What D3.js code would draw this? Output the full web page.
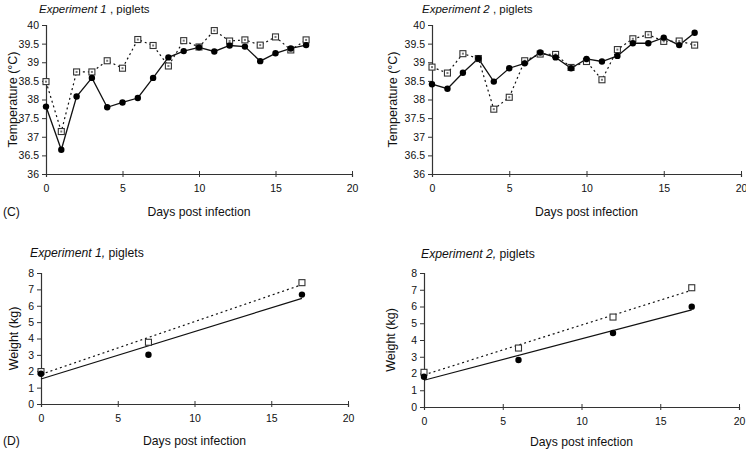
<!DOCTYPE html>
<html><head><meta charset="utf-8">
<script src="https://cdn.jsdelivr.net/npm/d3@7"></script>
<style>
body{margin:0;background:#fff;}
svg{display:block;font-family:"Liberation Sans",Arial,sans-serif;}
</style></head>
<body><svg id="chart" width="746" height="449"></svg>
<script>
// ---- data ----
const tempDays = [0,1,2,3,4,5,6,7,8,9,10,11,12,13,14,15,16,17];
const exp1TempFilled = [37.81,36.65,38.08,38.58,37.79,37.92,38.04,38.58,39.13,39.30,39.40,39.29,39.45,39.42,39.03,39.24,39.37,39.46];
const exp1TempOpen   = [38.48,37.14,38.74,38.74,39.04,38.84,39.61,39.45,38.90,39.58,39.41,39.85,39.57,39.60,39.46,39.68,39.33,39.60];
const exp2TempFilled = [38.41,38.29,38.72,39.10,38.48,38.84,38.97,39.26,39.13,38.84,39.09,39.02,39.17,39.51,39.51,39.66,39.46,39.79];
const exp2TempOpen   = [38.87,38.71,39.23,39.10,37.74,38.06,39.04,39.22,39.21,38.86,39.02,38.53,39.34,39.63,39.74,39.56,39.57,39.46];

const exp1WeightDays   = [0,7,17];
const exp1WeightFilled = [1.85,3.01,6.68];
const exp1WeightOpen   = [1.98,3.77,7.41];
const exp2WeightDays   = [0,6,12,17];
const exp2WeightFilled = [1.81,2.81,4.42,5.99];
const exp2WeightOpen   = [2.07,3.52,5.37,7.12];

const xTicks = [0,5,10,15,20];
const tempTicks = [36,36.5,37,37.5,38,38.5,39,39.5,40];
const weightTicks = [0,1,2,3,4,5,6,7,8];

const svg = d3.select("#chart");

function fit(xs, ys){
  const mx = d3.mean(xs), my = d3.mean(ys);
  let sxy=0, sxx=0;
  xs.forEach((x,i)=>{sxy+=(x-mx)*(ys[i]-my); sxx+=(x-mx)*(x-mx);});
  const b = sxy/sxx; return {a: my-b*mx, b};
}

function panel(o){
  const g = svg.append("g");
  const x = d3.scaleLinear().domain([0,20]).range([o.x0,o.x1]);
  const y = d3.scaleLinear().domain(o.ydom).range([o.y1,o.y0]);

  const xa = g.append("g").attr("transform",`translate(0,${o.y1})`)
    .call(d3.axisBottom(x).tickValues(xTicks).tickSize(3).tickPadding(8));
  xa.selectAll(".tick line").attr("y1",-3);
  const ya = g.append("g").attr("transform",`translate(${o.x0},0)`)
    .call(d3.axisLeft(y).tickValues(o.yticks).tickSize(4).tickPadding(3).tickFormat(d3.format("")));
  [xa,ya].forEach(a=>{
    a.select(".domain").attr("stroke","#333").attr("stroke-width",1.2);
    a.selectAll(".tick line").attr("stroke","#333");
    a.selectAll("text").attr("font-size",10.5).attr("fill","#111").attr("font-family","Liberation Sans, Arial, sans-serif");
  });

  const t = g.append("text").attr("x",o.tx).attr("y",o.ty).attr("font-size",o.tsize).attr("fill","#111");
  t.append("tspan").attr("font-style","italic").text(o.titleA);
  t.append("tspan").text(o.titleB);

  g.append("text").attr("transform",`translate(${o.ylx},${(o.y0+o.y1)/2}) rotate(-90)`)
    .attr("text-anchor","middle").attr("dy","0.35em").attr("font-size",12.5).attr("fill","#111").text(o.ylabel);
  g.append("text").attr("x",(o.x0+o.x1)/2).attr("y",o.xly).attr("text-anchor","middle")
    .attr("dy","0.35em").attr("font-size",12.2).attr("fill","#111").text("Days post infection");
  if(o.tag) g.append("text").attr("x",3).attr("y",o.xly).attr("dy","0.35em").attr("font-size",12.2).attr("fill","#111").text(o.tag);

  const ptsF = o.days.map((d,i)=>[d,o.filled[i]]);
  const ptsO = o.days.map((d,i)=>[d,o.open[i]]);
  const line = d3.line().x(d=>x(d[0])).y(d=>y(d[1]));

  if(o.trend){
    const fF = fit(o.days,o.filled), fO = fit(o.days,o.open);
    const ends = [0, d3.max(o.days)];
    g.append("path").attr("d",line(ends.map(d=>[d,fO.a+fO.b*d]))).attr("fill","none")
      .attr("stroke","#111").attr("stroke-width",1.2).attr("stroke-dasharray","2,3");
    g.append("path").attr("d",line(ends.map(d=>[d,fF.a+fF.b*d]))).attr("fill","none")
      .attr("stroke","#111").attr("stroke-width",1.2);
  } else {
    g.append("path").attr("d",line(ptsO)).attr("fill","none")
      .attr("stroke","#111").attr("stroke-width",1.2).attr("stroke-dasharray","2,3");
    g.append("path").attr("d",line(ptsF)).attr("fill","none")
      .attr("stroke","#111").attr("stroke-width",1.3);
  }
  const s = 6;
  g.selectAll(".sq").data(ptsO).join("rect")
    .attr("x",d=>x(d[0])-s/2).attr("y",d=>y(d[1])-s/2).attr("width",s).attr("height",s)
    .attr("fill","#fff").attr("stroke","#333").attr("stroke-width",1.1);
  if(!o.trend){
    g.selectAll(".sqd").data(ptsO).join("rect")
      .attr("x",d=>x(d[0])-1).attr("y",d=>y(d[1])-1).attr("width",2).attr("height",2).attr("fill","#777");
  }
  g.selectAll(".ci").data(ptsF).join("circle")
    .attr("cx",d=>x(d[0])).attr("cy",d=>y(d[1])).attr("r",3.2).attr("fill","#000");
}

panel({x0:46,x1:352,y0:25,y1:174,ydom:[36,40],yticks:tempTicks,days:tempDays,
  filled:exp1TempFilled,open:exp1TempOpen,titleA:"Experiment 1",titleB:" , piglets",
  tx:39,ty:13,tsize:11.5,ylx:13,xly:212,tag:"(C)",ylabel:"Temperature (°C)"});
panel({x0:432,x1:741,y0:25,y1:174,ydom:[36,40],yticks:tempTicks,days:tempDays,
  filled:exp2TempFilled,open:exp2TempOpen,titleA:"Experiment 2",titleB:" , piglets",
  tx:422,ty:13,tsize:11.5,ylx:393,xly:212,ylabel:"Temperature (°C)"});
panel({x0:41,x1:348,y0:273,y1:404,ydom:[0,8],yticks:weightTicks,days:exp1WeightDays,
  filled:exp1WeightFilled,open:exp1WeightOpen,titleA:"Experiment 1,",titleB:" piglets",
  tx:30,ty:257,tsize:12.2,ylx:14,xly:441,tag:"(D)",ylabel:"Weight (kg)",trend:true});
panel({x0:424,x1:739,y0:273,y1:407,ydom:[0,8],yticks:weightTicks,days:exp2WeightDays,
  filled:exp2WeightFilled,open:exp2WeightOpen,titleA:"Experiment 2,",titleB:" piglets",
  tx:421,ty:258,tsize:12.2,ylx:391,xly:442,ylabel:"Weight (kg)",trend:true});
</script></body></html>
